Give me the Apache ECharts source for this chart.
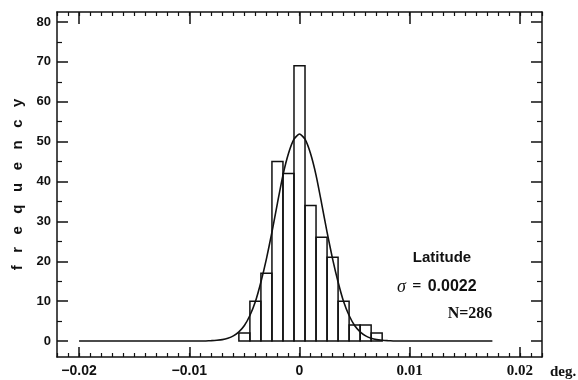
<!DOCTYPE html>
<html>
<head>
<meta charset="utf-8">
<script src="https://cdn.jsdelivr.net/npm/echarts@6/dist/echarts.min.js"></script>
<style>
  html, body { margin: 0; padding: 0; background: #fff; }
  #chart { width: 578px; height: 380px; }
</style>
</head>
<body>
<div id="chart"></div>
<script>
// Histogram of latitude residuals: bin centres (deg.) and counts per bin
const binCenters = [-0.005, -0.004, -0.003, -0.002, -0.001, 0, 0.001, 0.002, 0.003, 0.004, 0.005, 0.006, 0.007];
const binCounts  = [2, 10, 17, 45, 42, 69, 34, 26, 21, 10, 4, 4, 2];
const binWidth = 0.001;

// Fitted normal curve (sigma = 0.0022), sampled points
const curveX = [-0.02, -0.012, -0.009, -0.0085, -0.008, -0.0075, -0.007, -0.0065, -0.006, -0.0055, -0.005,
  -0.0045, -0.004, -0.0035, -0.003, -0.0025, -0.002, -0.0015, -0.001, -0.0005, 0,
  0.0005, 0.001, 0.0015, 0.002, 0.0025, 0.003, 0.0035, 0.004, 0.0045, 0.005,
  0.0055, 0.006, 0.0065, 0.007, 0.0075, 0.008, 0.0085, 0.009, 0.012, 0.0175];
const curveY = [0, 0, 0, 0.03, 0.1, 0.2, 0.35, 0.7, 1.3, 2.3, 3.9,
  6.4, 9.9, 14.8, 20.6, 27.3, 34.6, 41.6, 47.0, 50.6, 51.9,
  50.6, 47.0, 41.6, 34.6, 27.3, 20.6, 14.8, 9.9, 6.4, 3.9,
  2.3, 1.3, 0.7, 0.35, 0.2, 0.1, 0.03, 0, 0, 0];

// Axis ticks and labels
const xMajorTicks = [-0.02, -0.01, 0, 0.01, 0.02];
const xTickLabels = ['{a|\u22120.02}', '{a|\u22120.01}', '{a|0}', '{b|0.01}', '{b|0.02}'];
const yMajorTicks = [0, 10, 20, 30, 40, 50, 60, 70, 80];
const yMinorTicks = [5, 15, 25, 35, 45, 55, 65, 75];

const X_MIN = -0.022, X_MAX = 0.022, Y_MIN = -4, Y_MAX = 82.5;

const ink = '#111';
const lineStyle = { color: ink, width: 1.5 };
const sans = 'Liberation Sans, Arial, sans-serif';
const serif = 'Liberation Serif, Times New Roman, serif';

function xLabel(v) {
  for (let i = 0; i < xMajorTicks.length; i++) {
    if (Math.abs(xMajorTicks[i] - v) < 1e-9) return xTickLabels[i];
  }
  return '';
}

function xAxisDef(position, major) {
  return {
    type: 'value', position: position, min: X_MIN, max: X_MAX,
    interval: major ? undefined : 0.001,
    axisLine: { show: major, onZero: false, lineStyle: lineStyle },
    axisTick: major
      ? { show: true, inside: true, length: position === 'top' ? 12 : 10, customValues: xMajorTicks, lineStyle: lineStyle }
      : { show: true, inside: true, length: 4, lineStyle: { color: ink, width: 1.2 } },
    axisLabel: (major && position === 'bottom')
      ? {
          show: true, customValues: xMajorTicks, formatter: xLabel, margin: 7,
          rich: {
            a: { fontFamily: sans, fontSize: 14, fontWeight: 'bold', color: ink },
            b: { fontFamily: serif, fontSize: 15, fontWeight: 'bold', color: ink }
          }
        }
      : { show: false },
    splitLine: { show: false }
  };
}

function yAxisDef(position, major) {
  const def = {
    type: 'value', position: position, min: Y_MIN, max: Y_MAX,
    axisLine: { show: major, onZero: false, lineStyle: lineStyle },
    axisTick: {
      show: true, inside: true, length: major ? 11 : 5,
      customValues: major ? yMajorTicks : yMinorTicks,
      lineStyle: { color: ink, width: major ? 1.5 : 1.2 }
    },
    axisLabel: (major && position === 'left')
      ? { show: true, customValues: yMajorTicks, margin: 6, fontFamily: sans, fontSize: 13, fontWeight: 'bold', color: ink }
      : { show: false },
    splitLine: { show: false }
  };
  if (major && position === 'left') {
    def.name = 'f   r   e   q   u   e   n   c   y';
    def.nameLocation = 'middle';
    def.nameRotate = 90;
    def.nameGap = 31;
    def.nameTextStyle = { fontFamily: sans, fontSize: 15, fontWeight: 'bold', color: ink };
  }
  return def;
}

const chart = echarts.init(document.getElementById('chart'), null, { renderer: 'canvas' });

chart.setOption({
  animation: false,
  backgroundColor: '#fff',
  grid: { left: 57, right: 36, top: 12, bottom: 23 },
  xAxis: [xAxisDef('bottom', true), xAxisDef('bottom', false), xAxisDef('top', true), xAxisDef('top', false)],
  yAxis: [yAxisDef('left', true), yAxisDef('left', false), yAxisDef('right', true), yAxisDef('right', false)],
  series: [
    {
      type: 'custom',
      xAxisIndex: 0, yAxisIndex: 0,
      data: binCenters.map((c, i) => [c, binCounts[i]]),
      renderItem: function (params, api) {
        const c = api.value(0), v = api.value(1);
        const p0 = api.coord([c - binWidth / 2, 0]);
        const p1 = api.coord([c + binWidth / 2, v]);
        return {
          type: 'rect',
          shape: { x: p0[0], y: p1[1], width: p1[0] - p0[0], height: p0[1] - p1[1] },
          style: { fill: 'none', stroke: ink, lineWidth: 1.5 }
        };
      },
      z: 2
    },
    {
      type: 'line',
      xAxisIndex: 0, yAxisIndex: 0,
      data: curveX.map((x, i) => [x, curveY[i]]),
      showSymbol: false,
      smooth: 0.2,
      lineStyle: { color: ink, width: 1.6 },
      z: 3
    }
  ],
  graphic: [
    {
      type: 'text', x: 442, y: 258,
      style: { text: 'Latitude', fontFamily: sans, fontSize: 15, fontWeight: 'bold', fill: ink, align: 'center', verticalAlign: 'middle' }
    },
    {
      type: 'text', x: 397, y: 287,
      style: {
        text: '{s|\u03c3} {e|=} {n|0.0022}', align: 'left', verticalAlign: 'middle',
        rich: {
          s: { fontFamily: serif, fontStyle: 'italic', fontSize: 18, fill: ink },
          e: { fontFamily: serif, fontSize: 16, fontWeight: 'bold', fill: ink, padding: [0, 3, 0, 3] },
          n: { fontFamily: sans, fontSize: 16, fontWeight: 'bold', fill: ink }
        }
      }
    },
    {
      type: 'text', x: 470, y: 314,
      style: { text: 'N=286', fontFamily: serif, fontSize: 16, fontWeight: 'bold', fill: ink, align: 'center', verticalAlign: 'middle' }
    },
    {
      type: 'text', x: 563, y: 372,
      style: { text: 'deg.', fontFamily: serif, fontSize: 15, fontWeight: 'bold', fill: ink, align: 'center', verticalAlign: 'middle' }
    }
  ]
});
</script>
</body>
</html>
